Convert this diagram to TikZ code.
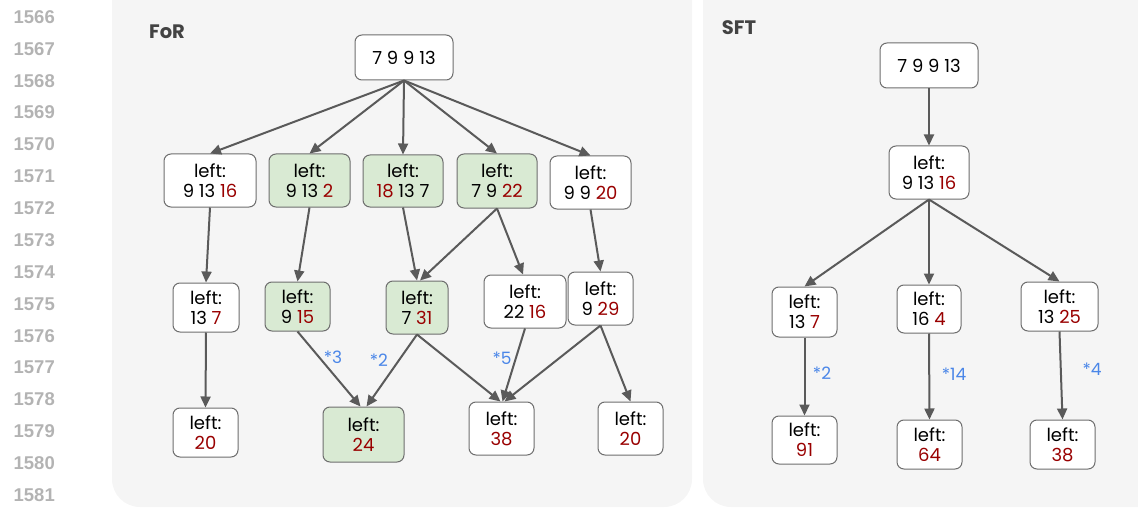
\documentclass[tikz,border=0pt]{standalone}
\usepackage{fontspec}
\setmainfont{Poppins}
\newfontfamily\numfont{Liberation Sans}
\usetikzlibrary{arrows.meta}

\definecolor{panelgray}{HTML}{F5F5F5}
\definecolor{boxline}{HTML}{6E6E6E}
\definecolor{arrowgray}{HTML}{5A5A5A}
\definecolor{lightgreen}{HTML}{D9EAD3}
\definecolor{darkred}{HTML}{990000}
\definecolor{labelblue}{HTML}{4A86E8}
\definecolor{linegray}{HTML}{B3B3B3}
\definecolor{titlegray}{HTML}{434343}

% highlighted (changed) value
\newcommand\rv[1]{\textcolor{darkred}{#1}}

\begin{document}
\begin{tikzpicture}[x=1pt,y=-1pt,
  panel/.style={fill=panelgray, rounded corners=28pt},
  box/.style={draw=boxline, line width=1pt, rounded corners=7pt, fill=white,
    align=center, inner sep=0pt, font=\fontsize{18}{20}\selectfont},
  grn/.style={box, fill=lightgreen},
  arr/.style={draw=arrowgray, line width=2pt,
    -{Triangle[length=11pt,width=10pt]}},
  mult/.style={text=labelblue, font=\fontsize{17}{19}\selectfont},
  ttl/.style={text=titlegray, font=\fontsize{19.5}{22}\selectfont\bfseries},
  lnum/.style={anchor=east, text=linegray, inner sep=0pt,
    font=\numfont\fontsize{18.5}{20}\selectfont\bfseries}
]
\useasboundingbox (0,0) rectangle (1138,508);

% background panels
\fill[panel] (112,-30) rectangle (692,507);
\fill[panel] (703,-30) rectangle (1170,507);

% line numbers in the margin
\foreach \i [count=\k from 0] in {1566,...,1581}
  \node[lnum] (ln\i) at (55,{17+31.87*\k}) {\i};

% ---------------- FoR ----------------
\node[ttl] (forttl) at (167,32) {FoR};

\node[box, minimum width=98pt, minimum height=45pt] (r) at (404,57.5) {7 9 9 13};

\node[box, minimum width=92pt, minimum height=53pt] (a1) at (210,180.5) {left:\\9 13 \rv{16}};
\node[grn, minimum width=81pt, minimum height=53pt] (a2) at (309.5,180.5) {left:\\9 13 \rv{2}};
\node[grn, minimum width=80pt, minimum height=52pt] (a3) at (403,181) {left:\\\rv{18} 13 7};
\node[grn, minimum width=80pt, minimum height=54pt] (a4) at (497,181) {left:\\7 9 \rv{22}};
\node[box, minimum width=81pt, minimum height=53pt] (a5) at (590.5,182.5) {left:\\9 9 \rv{20}};

\node[box, minimum width=66pt, minimum height=49pt] (b1) at (206,307.5) {left:\\13 \rv{7}};
\node[grn, minimum width=65pt, minimum height=49pt] (b2) at (297.5,306.5) {left:\\9 \rv{15}};
\node[grn, minimum width=62pt, minimum height=53pt] (b3) at (417,307.5) {left:\\7 \rv{31}};
\node[box, minimum width=82pt, minimum height=53pt] (b4) at (525,301.5) {left:\\22 \rv{16}};
\node[box, minimum width=65pt, minimum height=53pt] (b5) at (600.5,298.5) {left:\\9 \rv{29}};

\node[box, minimum width=65pt, minimum height=49pt] (c1) at (205.5,432.5) {left:\\\rv{20}};
\node[grn, minimum width=81pt, minimum height=55pt] (c2) at (363.5,434.5) {left:\\\rv{24}};
\node[box, minimum width=65pt, minimum height=53pt] (c3) at (501.5,428.5) {left:\\\rv{38}};
\node[box, minimum width=65pt, minimum height=53pt] (c4) at (630.5,428.5) {left:\\\rv{20}};

\foreach \t in {a1,a2,a3,a4,a5}
  \draw[arr] (r.south) -- (\t.north);
\draw[arr] (a1.south) -- (b1.north);
\draw[arr] (a2.south) -- (b2.north);
\draw[arr] (a3.south) -- (b3.north);
\draw[arr] (a4.south) -- ([xshift=3pt]b3.north);
\draw[arr] (a4.south) -- ([xshift=-2pt]b4.north);
\draw[arr] (a5.south) -- (b5.north);
\draw[arr] (b1.south) -- (c1.north);
\draw[arr] (b2.south) -- ([xshift=-3pt]c2.north);
\draw[arr] (b3.south) -- ([xshift=3pt]c2.north);
\draw[arr] (b3.south) -- ([xshift=-1pt]c3.north);
\draw[arr] (b4.south) -- ([xshift=1pt]c3.north);
\draw[arr] (b5.south) -- ([xshift=3pt]c3.north);
\draw[arr] (b5.south) -- (c4.north);

\node[mult] (m3) at (333,357) {*3};
\node[mult] (m2) at (379,360) {*2};
\node[mult] (m5) at (502,358) {*5};

% ---------------- SFT ----------------
\node[ttl] (sftttl) at (739,28) {SFT};

\node[box, minimum width=98pt, minimum height=45pt] (sr) at (929,65.5) {7 9 9 13};
\node[box, minimum width=80pt, minimum height=53pt] (s1) at (929,172.5) {left:\\9 13 \rv{16}};

\node[box, minimum width=65pt, minimum height=50pt] (s2) at (804.5,312) {left:\\13 \rv{7}};
\node[box, minimum width=64pt, minimum height=48pt] (s3) at (929,309) {left:\\16 \rv{4}};
\node[box, minimum width=77pt, minimum height=49pt] (s4) at (1059.5,306.5) {left:\\13 \rv{25}};

\node[box, minimum width=65pt, minimum height=48pt] (s5) at (804.5,440) {left:\\\rv{91}};
\node[box, minimum width=65pt, minimum height=49pt] (s6) at (929.5,444.5) {left:\\\rv{64}};
\node[box, minimum width=65pt, minimum height=49pt] (s7) at (1062.5,444.5) {left:\\\rv{38}};

\draw[arr] (sr.south) -- (s1.north);
\draw[arr] (s1.south) -- (s2.north);
\draw[arr] (s1.south) -- (s3.north);
\draw[arr] (s1.south) -- (s4.north);
\draw[arr] (s2.south) -- (s5.north);
\draw[arr] (s3.south) -- (s6.north);
\draw[arr] (s4.south) -- (s7.north);

\node[mult] (n2) at (822,373) {*2};
\node[mult] (n14) at (954,374) {*14};
\node[mult] (n4) at (1092,369) {*4};
\end{tikzpicture}
\end{document}
